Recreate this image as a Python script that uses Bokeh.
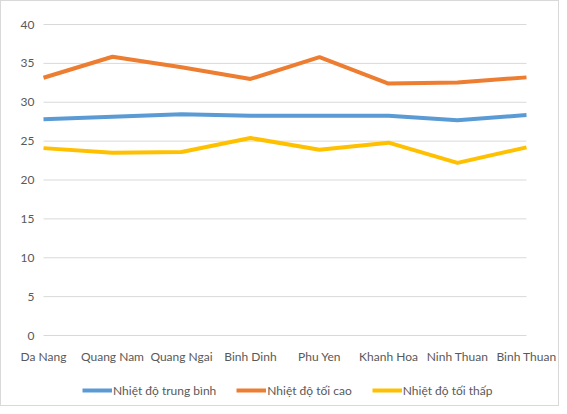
from bokeh.plotting import figure
from bokeh.models import FixedTicker, Legend, LegendItem, ColumnDataSource
from bokeh.embed import file_html
from bokeh.resources import INLINE

provinces = ["Da Nang", "Quang Nam", "Quang Ngai", "Binh Dinh", "Phu Yen",
             "Khanh Hoa", "Ninh Thuan", "Binh Thuan"]
temp_avg = [27.8, 28.15, 28.45, 28.25, 28.25, 28.25, 27.7, 28.35]
temp_max = [33.15, 35.85, 34.5, 33.0, 35.8, 32.4, 32.55, 33.2]
temp_min = [24.1, 23.5, 23.6, 25.4, 23.9, 24.8, 22.2, 24.2]
series_names = ["Nhiệt độ trung bình", "Nhiệt độ tối cao", "Nhiệt độ tối thấp"]
y_ticks = [0, 5, 10, 15, 20, 25, 30, 35, 40]

colors = ["#5B9BD5", "#ED7D31", "#FFC000"]
FONT = "Lato"
TEXT = "#595959"
GRID = "#d9d9d9"
FS = "12px"

# layout geometry (canvas pixels)
W, H = 559, 406
TOP_PX = 23                        # row of the value 40
ZERO_PX = 334                      # row of the value 0
X0_PX, XN_PX = 42, 525             # columns of first / last category
n = len(provinces)
y_max = y_ticks[-1]
ppu_y = (ZERO_PX - TOP_PX) / float(y_max)
y_low = -(H - ZERO_PX) / ppu_y
y_high = y_max + TOP_PX / ppu_y
ppu_x = (XN_PX - X0_PX) / (n - 1)
x_low = -X0_PX / ppu_x
x_high = (n - 1) + (W - XN_PX) / ppu_x

xs = list(range(n))
src = ColumnDataSource(dict(x=xs, avg=temp_avg, mx=temp_max, mn=temp_min))

p = figure(width=W, height=H, output_backend="svg", toolbar_location=None,
           x_range=(x_low, x_high), y_range=(y_low, y_high),
           min_border_left=0, min_border_right=0, min_border_top=0,
           min_border_bottom=0,
           styles={"border": "1px solid #d9d9d9"})
p.outline_line_color = None
p.background_fill_color = "white"
p.border_fill_color = "white"

# horizontal gridlines, spanning first to last category
p.xgrid.grid_line_color = None
p.ygrid.grid_line_color = None
gsrc = ColumnDataSource(dict(y=y_ticks, x0=[xs[0]] * len(y_ticks),
                             x1=[xs[-1]] * len(y_ticks)))
p.segment(x0="x0", x1="x1", y0="y", y1="y", source=gsrc,
          line_color=GRID, line_width=1)

renderers = []
for col, c in zip(["avg", "mx", "mn"], colors):
    r = p.line("x", col, source=src, line_color=c, line_width=4,
               line_join="round")
    renderers.append(r)

p.yaxis.fixed_location = xs[0]
p.yaxis.ticker = FixedTicker(ticks=y_ticks)
p.yaxis.axis_line_color = None
p.yaxis.major_tick_line_color = None
p.yaxis.minor_tick_line_color = None
p.yaxis.major_tick_out = 0
p.yaxis.minor_tick_out = 0
p.yaxis.major_label_standoff = 9
p.yaxis.major_label_text_font = FONT
p.yaxis.major_label_text_font_size = FS
p.yaxis.major_label_text_color = TEXT

p.xaxis.fixed_location = 0
p.xaxis.ticker = FixedTicker(ticks=xs)
p.xaxis.major_label_overrides = {i: name for i, name in zip(xs, provinces)}
p.xaxis.axis_line_color = None
p.xaxis.major_tick_line_color = None
p.xaxis.minor_tick_line_color = None
p.xaxis.major_tick_out = 0
p.xaxis.minor_tick_out = 0
p.xaxis.major_label_standoff = 13
p.xaxis.major_label_text_font = FONT
p.xaxis.major_label_text_font_size = FS
p.xaxis.major_label_text_color = TEXT

legend = Legend(items=[LegendItem(label=nm, renderers=[r]) for nm, r in zip(series_names, renderers)],
                orientation="horizontal", location=(81, 9),
                glyph_width=30, glyph_height=16, label_standoff=1, spacing=20,
                padding=0, margin=0, border_line_color=None,
                background_fill_alpha=0,
                label_text_font=FONT, label_text_font_size=FS,
                label_text_color=TEXT)
p.add_layout(legend, "center")

open("out.html", "w").write(file_html(p, INLINE))
